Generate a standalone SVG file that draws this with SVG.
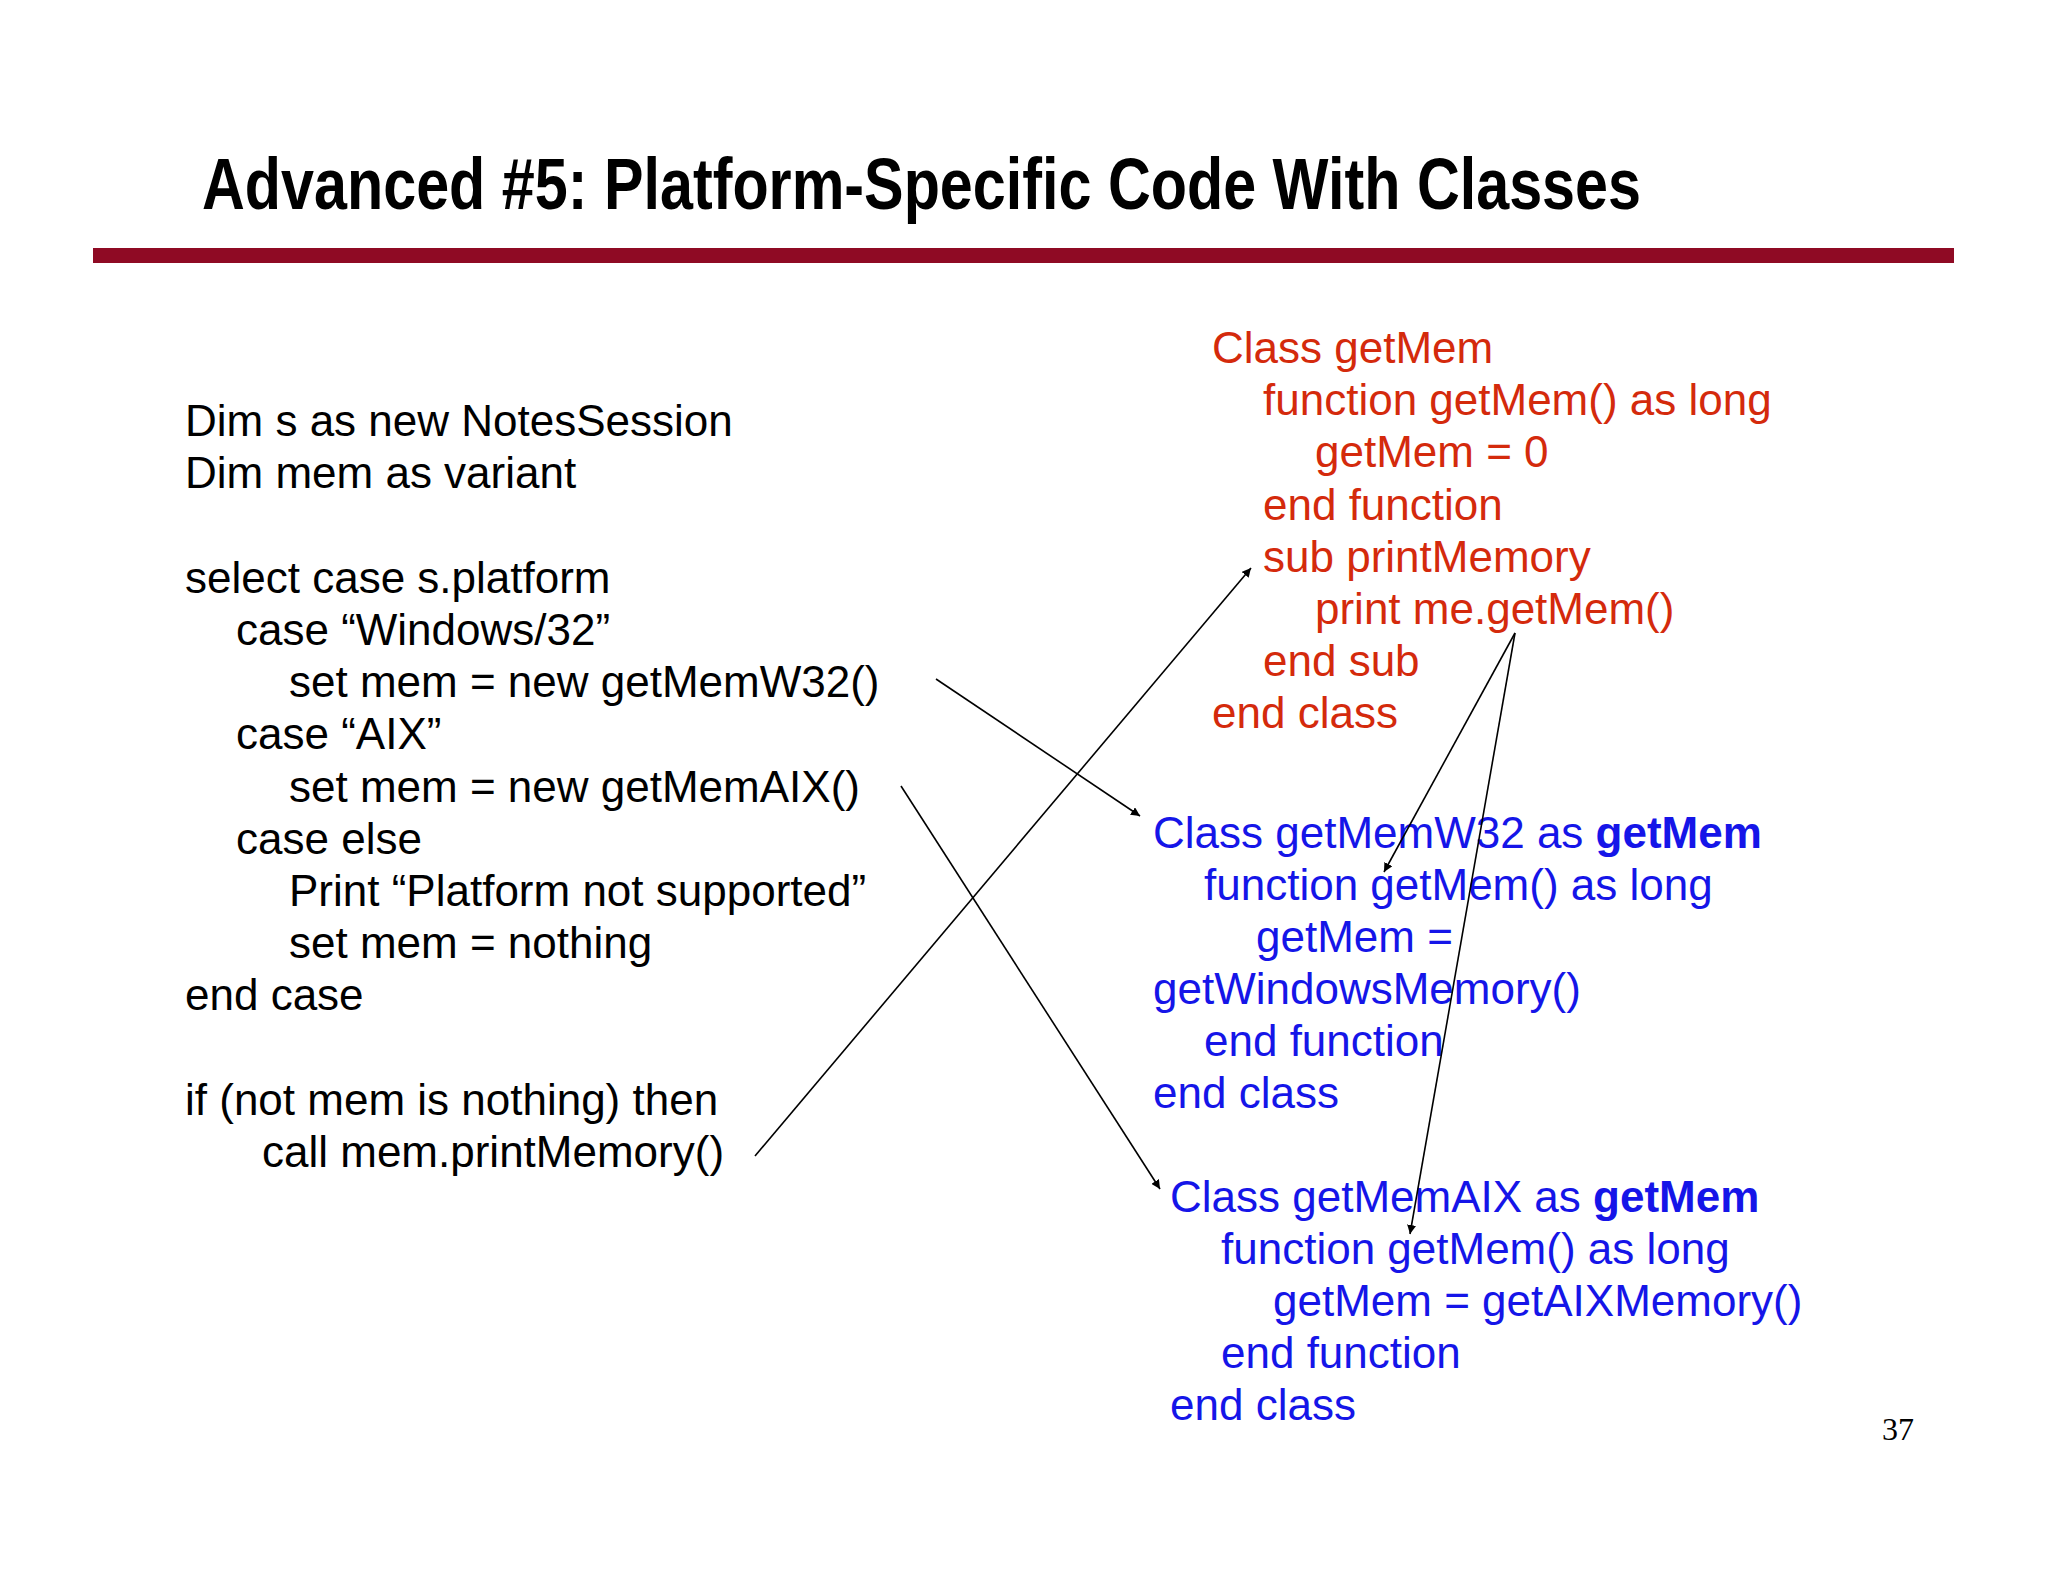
<svg xmlns="http://www.w3.org/2000/svg" width="2048" height="1582" viewBox="0 0 2048 1582">
<defs>
<style>
.t{font-family:"Liberation Sans",Arial,sans-serif;font-size:44px}
.k{fill:#000}.r{fill:#d42a0c}.b{fill:#1515e8}
.title{font-family:"Liberation Sans Narrow","Liberation Sans",Arial,sans-serif;font-stretch:condensed;font-weight:bold;font-size:72px;fill:#000}
.c line{stroke:#000;stroke-width:1.6;marker-end:url(#a)}
</style>
<marker id="a" viewBox="0 0 10 10" refX="10" refY="5" markerWidth="9" markerHeight="9" orient="auto" markerUnits="userSpaceOnUse"><path d="M0,0L10,5L0,10z" fill="#000"/></marker>
</defs>
<rect width="2048" height="1582" fill="#fff"/>
<g id="title"><text class="title" x="202" y="209" textLength="1439" lengthAdjust="spacingAndGlyphs">Advanced #5: Platform-Specific Code With Classes</text>
<rect x="93" y="248" width="1861" height="15" fill="#8f0a24"/></g>
<g id="main" class="t k">
<text x="185" y="436">Dim s as new NotesSession</text>
<text x="185" y="488">Dim mem as variant</text>
<text x="185" y="593">select case s.platform</text>
<text x="236" y="645">case “Windows/32”</text>
<text x="289" y="697">set mem = new getMemW32()</text>
<text x="236" y="749">case “AIX”</text>
<text x="289" y="802">set mem = new getMemAIX()</text>
<text x="236" y="854">case else</text>
<text x="289" y="906">Print “Platform not supported”</text>
<text x="289" y="958">set mem = nothing</text>
<text x="185" y="1010">end case</text>
<text x="185" y="1115">if (not mem is nothing) then</text>
<text x="262" y="1167">call mem.printMemory()</text>
</g>
<g id="getMem" class="t r">
<text x="1212" y="363">Class getMem</text>
<text x="1263" y="415">function getMem() as long</text>
<text x="1315" y="467">getMem = 0</text>
<text x="1263" y="520">end function</text>
<text x="1263" y="572">sub printMemory</text>
<text x="1315" y="624">print me.getMem()</text>
<text x="1263" y="676">end sub</text>
<text x="1212" y="728">end class</text>
</g>
<g id="getMemW32" class="t b">
<text x="1153" y="848">Class getMemW32 as <tspan font-weight="bold">getMem</tspan></text>
<text x="1204" y="900">function getMem() as long</text>
<text x="1256" y="952">getMem =</text>
<text x="1153" y="1004">getWindowsMemory()</text>
<text x="1204" y="1056">end function</text>
<text x="1153" y="1108">end class</text>
</g>
<g id="getMemAIX" class="t b">
<text x="1170" y="1212">Class getMemAIX as <tspan font-weight="bold">getMem</tspan></text>
<text x="1221" y="1264">function getMem() as long</text>
<text x="1273" y="1316">getMem = getAIXMemory()</text>
<text x="1221" y="1368">end function</text>
<text x="1170" y="1420">end class</text>
</g>
<text x="1882" y="1440" font-family="Liberation Serif,serif" font-size="32">37</text>
<g id="connectors" class="c">
<line x1="936" y1="679" x2="1140" y2="816"/>
<line x1="901" y1="786" x2="1160" y2="1189"/>
<line x1="755" y1="1156" x2="1251" y2="568"/>
<line x1="1515" y1="633" x2="1384" y2="872"/>
<line x1="1515" y1="633" x2="1410" y2="1234"/>
</g>
</svg>
